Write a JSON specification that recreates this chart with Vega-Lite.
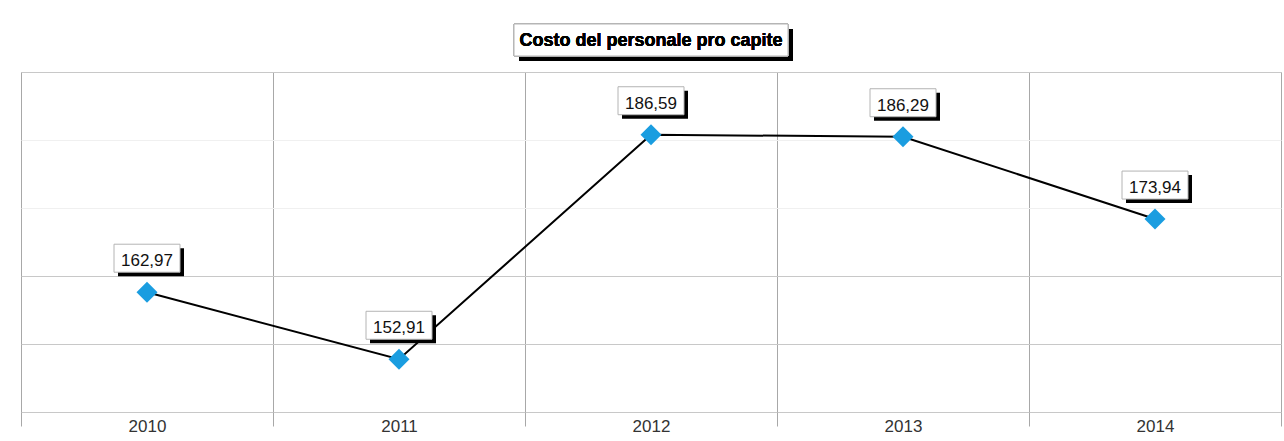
{
  "$schema": "https://vega.github.io/schema/vega-lite/v6.json",
  "width": 1260,
  "height": 340,
  "autosize": {"type": "none"},
  "padding": {"left": 21, "top": 72, "right": 3, "bottom": 29},
  "background": "white",
  "config": {
    "locale": {"number": {"decimal": ",", "thousands": ".", "grouping": [3], "currency": ["€", ""]}},
    "view": {"stroke": "#c4c4c4", "strokeWidth": 1}
  },
  "data": {
    "values": [
      {"year": 2010, "value": 162.97},
      {"year": 2011, "value": 152.91},
      {"year": 2012, "value": 186.59},
      {"year": 2013, "value": 186.29},
      {"year": 2014, "value": 173.94}
    ]
  },
  "encoding": {
    "x": {
      "field": "year",
      "type": "ordinal",
      "scale": {"paddingInner": 0, "paddingOuter": 0},
      "axis": {
        "title": null,
        "tickBand": "extent",
        "grid": true,
        "gridColor": "#a8a8a8",
        "gridWidth": 1,
        "ticks": true,
        "tickSize": 14,
        "tickColor": "#a8a8a8",
        "tickWidth": 1,
        "domain": false,
        "labelPadding": -8,
        "labelAngle": 0,
        "labelFont": "Liberation Sans",
        "labelFontSize": 17,
        "labelColor": "#333333"
      }
    },
    "y": {
      "field": "value",
      "type": "quantitative",
      "scale": {"domain": [145, 196], "zero": false, "nice": false},
      "axis": {
        "title": null,
        "values": [145, 155.2, 165.4, 175.6, 185.8, 196],
        "grid": true,
        "gridColor": {"condition": {"test": "datum.value > 170 && datum.value < 195", "value": "#f0f0f0"}, "value": "#c8c8c8"},
        "labels": false,
        "ticks": false,
        "domain": false
      }
    }
  },
  "layer": [
    {
      "mark": {"type": "point", "shape": "M-1,-0.1168H1V0.1168H-1Z", "size": 75076, "filled": true, "color": "#000000", "opacity": 1, "strokeWidth": 0, "xOffset": 5, "yOffset": -27, "clip": false},
      "encoding": {"x": {"datum": 2012, "type": "ordinal"}, "y": {"datum": 196, "type": "quantitative"}}
    },
    {
      "mark": {"type": "point", "shape": "M-1,-0.1168H1V0.1168H-1Z", "size": 75076, "filled": true, "color": "#ffffff", "stroke": "#b4b4b4", "strokeWidth": 1, "opacity": 1, "yOffset": -32, "clip": false},
      "encoding": {"x": {"datum": 2012, "type": "ordinal"}, "y": {"datum": 196, "type": "quantitative"}}
    },
    {
      "mark": {"type": "text", "text": "Costo del personale pro capite", "font": "Liberation Sans", "fontSize": 18, "fontWeight": "bold", "color": "#000000", "baseline": "middle", "align": "center", "yOffset": -31, "clip": false},
      "encoding": {"x": {"datum": 2012, "type": "ordinal"}, "y": {"datum": 196, "type": "quantitative"}}
    },
    {"mark": {"type": "line", "color": "#000000", "strokeWidth": 2}},
    {"mark": {"type": "point", "shape": "diamond", "filled": true, "size": 440, "color": "#1a9de0", "opacity": 1}},
    {"mark": {"type": "point", "shape": "M-1,-0.424H1V0.424H-1Z", "size": 4356, "filled": true, "color": "#000000", "opacity": 1, "strokeWidth": 0, "xOffset": 4, "yOffset": -30}},
    {"mark": {"type": "point", "shape": "M-1,-0.424H1V0.424H-1Z", "size": 4356, "filled": true, "color": "#ffffff", "stroke": "#b4b4b4", "strokeWidth": 1, "opacity": 1, "yOffset": -34}},
    {
      "mark": {"type": "text", "yOffset": -31, "font": "Liberation Sans", "fontSize": 17, "color": "#111111", "baseline": "middle", "align": "center"},
      "encoding": {"text": {"field": "value", "type": "quantitative", "format": ".2f"}}
    }
  ]
}
